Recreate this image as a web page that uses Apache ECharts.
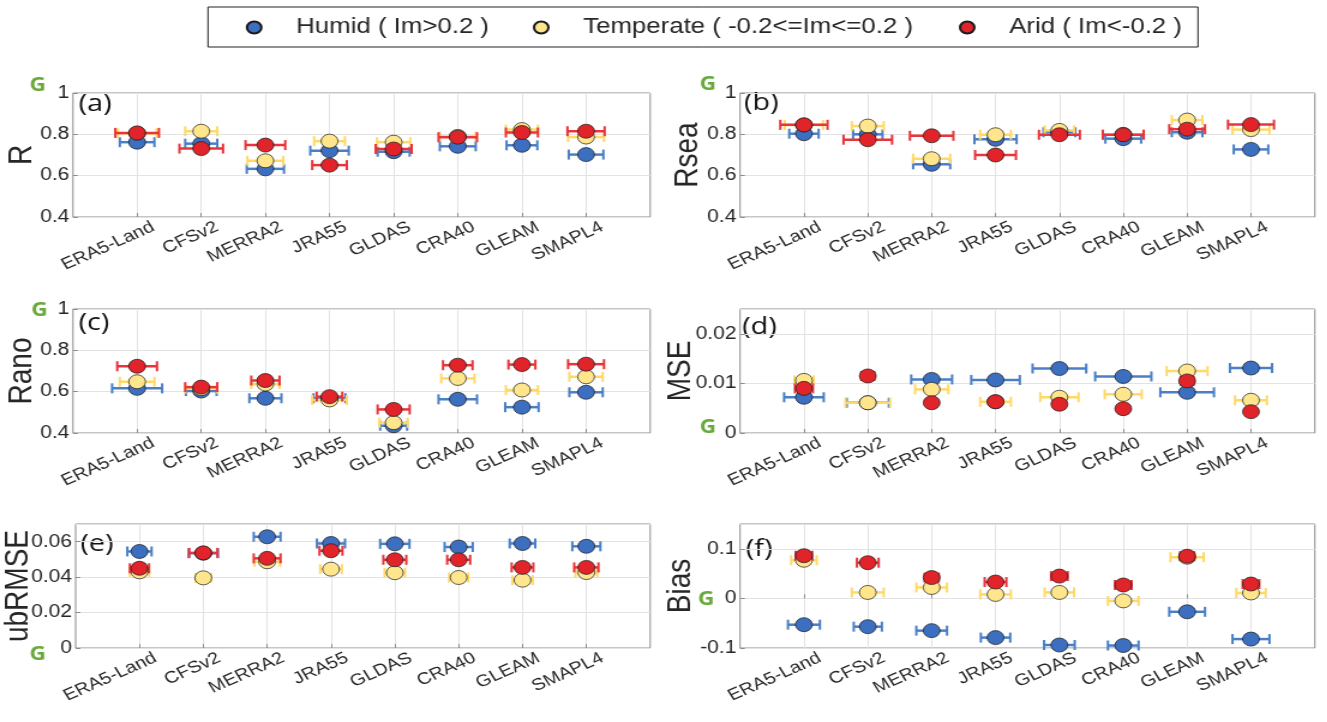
<!DOCTYPE html>
<html><head><meta charset="utf-8">
<script src="https://cdn.jsdelivr.net/npm/echarts@6/dist/echarts.min.js"></script>
<style>
html,body{margin:0;padding:0;background:#fff;overflow:hidden;}
#wrap{width:1327px;height:722px;overflow:hidden;}
#chart{width:1106px;height:722px;transform:scaleX(1.2);transform-origin:0 0;}
</style></head><body><div id="wrap"><div id="chart"></div></div>
<script>
const categories = ['ERA5-Land','CFSv2','MERRA2','JRA55','GLDAS','CRA40','GLEAM','SMAPL4'];
const groups = ['Humid ( Im>0.2 )','Temperate ( -0.2<=Im<=0.2 )','Arid ( Im<-0.2 )'];

// (a) R
const R_humid = [0.762, 0.755, 0.633, 0.721, 0.716, 0.742, 0.747, 0.702];
const R_humid_err = [0.27, 0.25, 0.29, 0.30, 0.25, 0.28, 0.24, 0.27];
const R_temp = [0.805, 0.815, 0.672, 0.767, 0.762, 0.790, 0.823, 0.787];
const R_temp_err = [0.30, 0.25, 0.28, 0.24, 0.26, 0.28, 0.25, 0.28];
const R_arid = [0.807, 0.731, 0.748, 0.651, 0.729, 0.786, 0.809, 0.815];
const R_arid_err = [0.34, 0.34, 0.31, 0.27, 0.28, 0.30, 0.25, 0.29];
// (b) Rsea
const Rsea_humid = [0.803, 0.800, 0.655, 0.776, 0.810, 0.779, 0.810, 0.727];
const Rsea_humid_err = [0.23, 0.23, 0.29, 0.33, 0.25, 0.28, 0.24, 0.27];
const Rsea_temp = [0.845, 0.840, 0.682, 0.798, 0.819, 0.800, 0.869, 0.823];
const Rsea_temp_err = [0.30, 0.25, 0.29, 0.24, 0.23, 0.32, 0.24, 0.29];
const Rsea_arid = [0.846, 0.774, 0.793, 0.700, 0.798, 0.798, 0.825, 0.847];
const Rsea_arid_err = [0.37, 0.38, 0.34, 0.32, 0.32, 0.32, 0.28, 0.36];
// (c) Rano
const Rano_humid = [0.616, 0.603, 0.568, 0.568, 0.435, 0.563, 0.525, 0.597];
const Rano_humid_err = [0.39, 0.24, 0.25, 0.25, 0.21, 0.30, 0.26, 0.26];
const Rano_temp = [0.648, 0.615, 0.637, 0.560, 0.450, 0.664, 0.608, 0.672];
const Rano_temp_err = [0.27, 0.25, 0.22, 0.27, 0.22, 0.26, 0.25, 0.26];
const Rano_arid = [0.723, 0.622, 0.654, 0.576, 0.514, 0.728, 0.731, 0.733];
const Rano_arid_err = [0.31, 0.25, 0.22, 0.20, 0.25, 0.23, 0.21, 0.28];
// (d) MSE
const MSE_humid = [0.0072, 0.0061, 0.0108, 0.0107, 0.0130, 0.0114, 0.0082, 0.0131];
const MSE_humid_err = [0.31, 0.33, 0.32, 0.38, 0.42, 0.44, 0.42, 0.33];
const MSE_temp = [0.0106, 0.0061, 0.0088, 0.0063, 0.0072, 0.0078, 0.0125, 0.0066];
const MSE_temp_err = [0.15, 0.35, 0.26, 0.24, 0.30, 0.29, 0.32, 0.25];
const MSE_arid = [0.0090, 0.0115, 0.0061, 0.0063, 0.0058, 0.0049, 0.0105, 0.0043];
const MSE_arid_err = [0.14, 0.10, 0.05, 0.08, 0.07, 0.05, 0.10, 0.05];
// (e) ubRMSE
const ubRMSE_humid = [0.0545, 0.0535, 0.0628, 0.0590, 0.0588, 0.0570, 0.0590, 0.0574];
const ubRMSE_humid_err = [0.19, 0.23, 0.21, 0.22, 0.23, 0.22, 0.20, 0.22];
const ubRMSE_temp = [0.0430, 0.0396, 0.0487, 0.0445, 0.0425, 0.0398, 0.0383, 0.0426];
const ubRMSE_temp_err = [0.15, 0.12, 0.20, 0.17, 0.16, 0.15, 0.16, 0.17];
const ubRMSE_arid = [0.0450, 0.0537, 0.0506, 0.0549, 0.0498, 0.0498, 0.0455, 0.0455];
const ubRMSE_arid_err = [0.15, 0.22, 0.21, 0.18, 0.18, 0.18, 0.17, 0.19];
// (f) Bias
const Bias_humid = [-0.053, -0.057, -0.065, -0.079, -0.094, -0.095, -0.027, -0.082];
const Bias_humid_err = [0.25, 0.22, 0.24, 0.23, 0.24, 0.24, 0.28, 0.29];
const Bias_temp = [0.077, 0.012, 0.022, 0.008, 0.012, -0.005, 0.083, 0.011];
const Bias_temp_err = [0.20, 0.25, 0.24, 0.24, 0.23, 0.24, 0.26, 0.23];
const Bias_arid = [0.086, 0.072, 0.042, 0.033, 0.045, 0.027, 0.085, 0.029];
const Bias_arid_err = [0.13, 0.17, 0.11, 0.17, 0.13, 0.13, 0.11, 0.13];

// y-axis ranges / ticks
const R_axis = {min: 0.4, max: 1, interval: 0.2};
const MSE_axis = {min: 0, max: 0.025, interval: 0.01};
const ubRMSE_axis = {min: 0, max: 0.07, interval: 0.02};
const Bias_axis = {min: -0.1, max: 0.15, interval: 0.1};

const panels = [
  {name:'R', tag:'(a)', axis:R_axis, vals:[R_humid,R_temp,R_arid], errs:[R_humid_err,R_temp_err,R_arid_err]},
  {name:'Rsea', tag:'(b)', axis:R_axis, vals:[Rsea_humid,Rsea_temp,Rsea_arid], errs:[Rsea_humid_err,Rsea_temp_err,Rsea_arid_err]},
  {name:'Rano', tag:'(c)', axis:R_axis, vals:[Rano_humid,Rano_temp,Rano_arid], errs:[Rano_humid_err,Rano_temp_err,Rano_arid_err]},
  {name:'MSE', tag:'(d)', axis:MSE_axis, vals:[MSE_humid,MSE_temp,MSE_arid], errs:[MSE_humid_err,MSE_temp_err,MSE_arid_err]},
  {name:'ubRMSE', tag:'(e)', axis:ubRMSE_axis, vals:[ubRMSE_humid,ubRMSE_temp,ubRMSE_arid], errs:[ubRMSE_humid_err,ubRMSE_temp_err,ubRMSE_arid_err]},
  {name:'Bias', tag:'(f)', axis:Bias_axis, vals:[Bias_humid,Bias_temp,Bias_arid], errs:[Bias_humid_err,Bias_temp_err,Bias_arid_err]}
];

// layout (canvas units; the canvas is stretched 1.2x horizontally like the source figure)
const COLS = [{left: 60.8, width: 481}, {left: 616.7, width: 479}];
const ROWS = [{top: 93, height: 124}, {top: 309, height: 124}, {top: 524, height: 124}];
const NAME_GAP = [29, 29, 29, 35, 34, 35];
const TAG_POS = [[65.5, 92], [620, 91], [65.5, 311], [618.5, 315], [67, 532], [621.5, 537]];
const G_POS = [[31.5, 86], [590, 85], [33, 311], [590, 428], [31.5, 655], [588.5, 600]];
const LEGEND_X = [204.8, 444, 799];   // icon left edges
const MARKER_FILL = ['#3d6fc0', '#ffe68c', '#e0242a'];
const BAR_COLOR = ['#4a7fc6', '#ffd966', '#e8343a'];
const LABEL_SHIFT = 0.25;
const FONT = '"Liberation Sans", Arial, sans-serif';
const TXT = '#262626';

const grids = [], xAxes = [], yAxes = [], series = [], graphics = [];
const tickVals = categories.map((c, i) => i + 1);
const labelVals = categories.map((c, i) => i + 1 + LABEL_SHIFT);

panels.forEach((p, k) => {
  const col = COLS[k % 2], row = ROWS[Math.floor(k / 2)];
  grids.push({left: col.left, top: row.top, width: col.width, height: row.height,
    show: true, borderColor: '#8c8c8c', borderWidth: 1, backgroundColor: 'transparent'});
  xAxes.push({gridIndex: k, type: 'value', min: 0, max: categories.length + 1, interval: 1,
    axisLine: {show: false},
    axisTick: {show: true, inside: true, length: 4, lineStyle: {color: '#8c8c8c'}, customValues: tickVals},
    splitLine: {show: true, lineStyle: {color: '#e3e3e3', width: 1}},
    axisLabel: {customValues: labelVals, rotate: 28, fontSize: 16.5, margin: 9, color: TXT, fontFamily: FONT,
      formatter: v => categories[Math.round(v - LABEL_SHIFT) - 1] || ''}
  });
  const steps = (p.axis.max - p.axis.min) / p.axis.interval;
  const fixedMax = Math.abs(steps - Math.round(steps)) < 1e-9;
  yAxes.push({gridIndex: k, type: 'value', min: p.axis.min, max: p.axis.max, interval: p.axis.interval,
    name: p.name, nameLocation: 'middle', nameGap: NAME_GAP[k], nameMoveOverlap: false,
    nameTextStyle: {fontSize: 28, color: TXT, fontFamily: FONT},
    axisLine: {show: false},
    axisTick: {show: true, inside: true, length: 4, lineStyle: {color: '#8c8c8c'}},
    splitLine: {show: true, lineStyle: {color: '#e3e3e3', width: 1}},
    axisLabel: {fontSize: 17.5, margin: 3, color: TXT, fontFamily: FONT, showMaxLabel: fixedMax,
      formatter: v => String(+v.toFixed(4))}
  });
  for (let g = 0; g < 3; g++) {
    const color = BAR_COLOR[g];
    series.push({
      type: 'custom', name: 'err ' + groups[g], xAxisIndex: k, yAxisIndex: k, silent: true,
      data: p.vals[g].map((v, i) => [i + 1, v, p.errs[g][i]]),
      encode: {x: 0, y: 1},
      renderItem: (params, api) => {
        const x = api.value(0), y = api.value(1), hw = api.value(2);
        const a = api.coord([x - hw, y]), b = api.coord([x + hw, y]);
        const cap = 5;
        return {type: 'group', children: [
          {type: 'line', shape: {x1: a[0], y1: a[1], x2: b[0], y2: b[1]}, style: {stroke: color, lineWidth: 2.5}},
          {type: 'line', shape: {x1: a[0], y1: a[1] - cap, x2: a[0], y2: a[1] + cap}, style: {stroke: color, lineWidth: 2}},
          {type: 'line', shape: {x1: b[0], y1: b[1] - cap, x2: b[0], y2: b[1] + cap}, style: {stroke: color, lineWidth: 2}}
        ]};
      }
    });
    series.push({
      type: 'scatter', name: groups[g], xAxisIndex: k, yAxisIndex: k,
      data: p.vals[g].map((v, i) => [i + 1, v]),
      symbol: 'circle', symbolSize: 14,
      itemStyle: {color: MARKER_FILL[g], borderColor: '#1a1a1a', borderWidth: 0.7, opacity: 1},
      emphasis: {disabled: true}
    });
  }
  graphics.push({type: 'text', left: TAG_POS[k][0], top: TAG_POS[k][1],
    style: {text: p.tag, font: '24px "Open Sans", sans-serif', fill: '#111'}});
  graphics.push({type: 'text', x: G_POS[k][0], y: G_POS[k][1],
    style: {text: 'G', font: 'bold 19px "Open Sans", sans-serif', fill: '#6aaa3c', align: 'center', verticalAlign: 'middle'}});
});

// legend frame
graphics.push({type: 'rect', shape: {x: 173.3, y: 7, width: 825, height: 40},
  style: {fill: 'none', stroke: '#222', lineWidth: 1}, silent: true});

const legends = groups.map((g, i) => ({
  data: [g], left: LEGEND_X[i], top: 16.5, padding: 0,
  icon: 'circle', itemWidth: 12, itemHeight: 12,
  textStyle: {fontSize: 21.5, color: TXT, fontFamily: FONT, padding: [0, 0, 0, 24]},
  selectedMode: false
}));

const chart = echarts.init(document.getElementById('chart'), null, {renderer: 'canvas'});
chart.setOption({
  animation: false,
  backgroundColor: '#fff',
  textStyle: {fontFamily: FONT},
  legend: legends,
  grid: grids, xAxis: xAxes, yAxis: yAxes, series: series, graphic: graphics
});
</script></body></html>
